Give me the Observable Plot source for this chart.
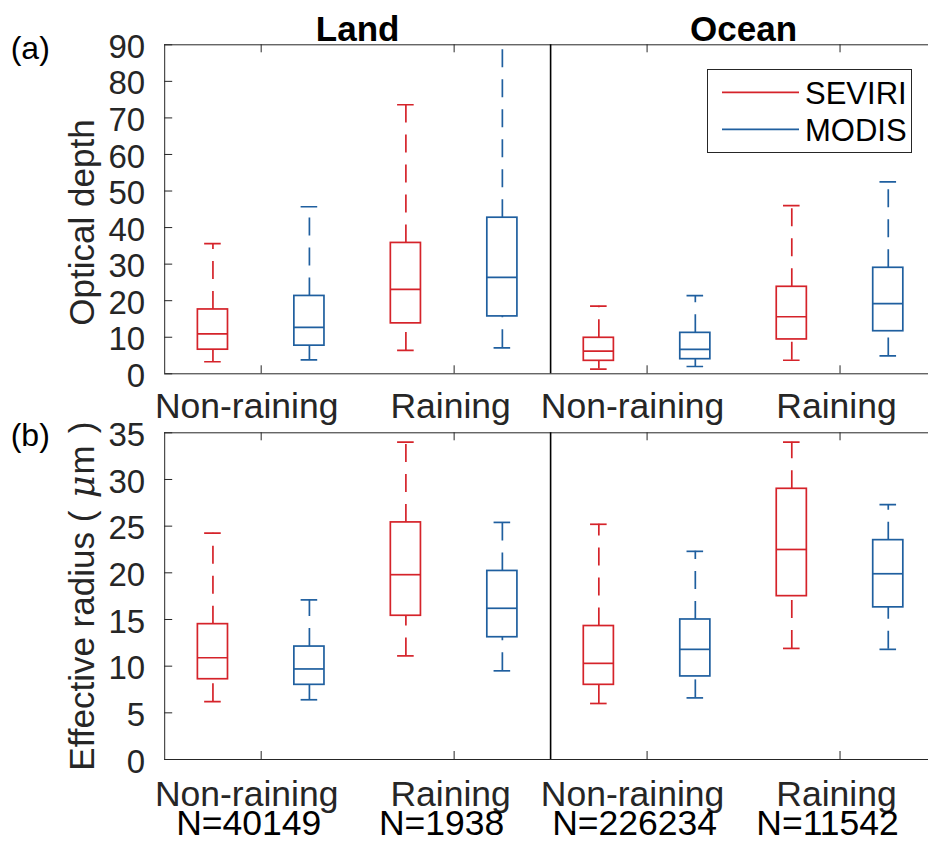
<!DOCTYPE html>
<html>
<head>
<meta charset="utf-8">
<script src="https://cdn.jsdelivr.net/npm/d3@7"></script>
<script src="https://cdn.jsdelivr.net/npm/@observablehq/plot@0.6"></script>
<style>
  body { margin: 0; background: #fff; }
  #chart { position: relative; width: 928px; height: 841px; overflow: hidden; background: #fff; }
  #chart svg { position: absolute; left: 0; }
</style>
</head>
<body>
<div id="chart"></div>
<script>
// ---------------- data ----------------
const categories = ["Non-raining", "Raining", "Non-raining", "Raining"];
const counts = ["N=40149", "N=1938", "N=226234", "N=11542"];
const surfaces = ["Land", "Ocean"];
const sensors = ["SEVIRI", "MODIS"];
// each entry: [lower whisker, q1, median, q3, upper whisker]
const tauSEVIRI = [[3.3, 6.6, 10.9, 17.6, 35.6], [6.4, 13.8, 23.1, 35.8, 73.6], [1.3, 3.55, 6.2, 9.85, 18.5], [3.7, 9.4, 15.6, 23.8, 46.0]];
const tauMODIS  = [[3.8, 7.7, 12.7, 21.3, 45.7], [7.1, 15.7, 26.4, 42.7, 95.0], [2.0, 4.0, 6.7, 11.2, 21.4], [4.9, 11.65, 19.2, 29.0, 52.5]];
const reSEVIRI  = [[6.2, 8.6, 10.9, 14.5, 24.25], [11.1, 15.4, 19.8, 25.4, 34.0], [6.0, 8.0, 10.3, 14.3, 25.2], [11.9, 17.5, 22.5, 29.0, 34.0]];
const reMODIS   = [[6.4, 8.0, 9.7, 12.1, 17.1], [9.5, 13.1, 16.2, 20.2, 25.4], [6.6, 8.9, 11.8, 15.0, 22.3], [11.8, 16.3, 19.9, 23.5, 27.3]];
const tauTicks = [0, 10, 20, 30, 40, 50, 60, 70, 80, 90];
const reTicks = [0, 5, 10, 15, 20, 25, 30, 35];
const xTicks = [1, 2, 3, 4];

// ---------------- style ----------------
const colors = {SEVIRI: "#d5232a", MODIS: "#1f5f9f"};
const FONT = "Liberation Sans, Arial, Helvetica, sans-serif";
const AX = "#262626";
const W = 928, ML = 164.2;
const XMAX = 4.4585;          // axis continues slightly beyond the picture
const frameW = W - ML;
const offs = {SEVIRI: -0.25, MODIS: 0.25};
const halfBox = 0.078, halfCap = 0.043;

function rowsFor(seviri, modis) {
  const rows = [];
  categories.forEach((c, i) => {
    sensors.forEach(s => {
      const v = (s === "SEVIRI" ? seviri : modis)[i];
      rows.push({sensor: s, x: i + 1 + offs[s], lo: v[0], q1: v[1], med: v[2], q3: v[3], hi: v[4]});
    });
  });
  return rows;
}

function boxMarks(rows) {
  const m = [];
  for (const s of sensors) {
    const d = rows.filter(r => r.sensor === s);
    const st = {stroke: colors[s], strokeWidth: 1.7, clip: true};
    m.push(
      Plot.ruleX(d, {x: "x", y1: "q3", y2: "hi", strokeDasharray: "18,12", ...st}),
      Plot.ruleX(d, {x: "x", y1: "lo", y2: "q1", strokeDasharray: "18,12", ...st}),
      Plot.ruleY(d, {y: "hi", x1: r => r.x - halfCap, x2: r => r.x + halfCap, ...st}),
      Plot.ruleY(d, {y: "lo", x1: r => r.x - halfCap, x2: r => r.x + halfCap, ...st}),
      Plot.rect(d, {x1: r => r.x - halfBox, x2: r => r.x + halfBox, y1: "q1", y2: "q3", fill: "none", ...st}),
      Plot.ruleY(d, {y: "med", x1: r => r.x - halfBox, x2: r => r.x + halfBox, ...st})
    );
  }
  return m;
}

function panel({rows, yMax, yTicks, height, marginTop, marginBottom, label, labelDy, ylabel, ylabelDy, ylabelSize, titles, lines}) {
  const frameH = height - marginTop - marginBottom;
  const marks = [
    // frame
    Plot.ruleY([yMax], {stroke: AX, strokeWidth: 1}),
    Plot.ruleY([0], {stroke: AX, strokeWidth: 1}),
    Plot.ruleX([0.5], {stroke: AX, strokeWidth: 1}),
    // inward ticks
    Plot.ruleX(xTicks, {x: d => d, insetBottom: frameH - 8, stroke: AX}),
    Plot.ruleX(xTicks, {x: d => d, insetTop: frameH - 8, stroke: AX}),
    Plot.ruleY(yTicks, {y: d => d, insetRight: frameW - 8, stroke: AX}),
    // land / ocean divider
    Plot.ruleX([2.5], {stroke: "#000", strokeWidth: 1.6}),
    ...boxMarks(rows),
    // y tick labels
    Plot.text(yTicks, {y: d => d, text: d => String(d), frameAnchor: "left", dx: -19.5, dy: 2.5,
      textAnchor: "end", fontSize: 33, fill: AX}),
    // panel letter
    Plot.text([label], {text: d => d, frameAnchor: "top-left", dx: 10.2 - ML, dy: labelDy,
      textAnchor: "start", lineAnchor: "bottom", fontSize: 32, fill: "#000"}),
    // y label
    Plot.text([ylabel], {text: d => d, frameAnchor: "left", rotate: -90, dx: 93.5 - ML, dy: ylabelDy,
      textAnchor: "middle", lineAnchor: "bottom", fontSize: ylabelSize, fill: AX})
  ];
  // category labels (line 1)
  const idx = [0, 1, 2, 3];
  for (const [sel, dx] of [[i => i % 2 === 0, -14.5], [i => i % 2 === 1, -3.5]]) {
    marks.push(Plot.text(idx.filter(sel), {x: i => i + 1, text: i => categories[i], frameAnchor: "bottom",
      dx, dy: lines[0], textAnchor: "middle", lineAnchor: "bottom", fontSize: 35.5, fill: AX}));
  }
  if (lines.length > 1) {
    marks.push(Plot.text(idx, {x: i => i + 1, text: i => counts[i], frameAnchor: "bottom",
      dx: -12.5, dy: lines[1], textAnchor: "middle", lineAnchor: "bottom", fontSize: 35.5, fill: "#000"}));
  }
  if (titles) {
    marks.push(Plot.text(surfaces, {x: (d, i) => 1.5 + 2 * i, text: d => d, frameAnchor: "top", dy: -4.3,
      textAnchor: "middle", lineAnchor: "bottom", fontSize: 35, fontWeight: "bold", fill: "#000"}));
  }
  return Plot.plot({
    width: W, height, marginLeft: ML, marginRight: 0, marginTop, marginBottom,
    x: {domain: [0.5, XMAX], axis: null},
    y: {domain: [0, yMax], axis: null},
    style: {fontFamily: FONT, background: "transparent", overflow: "visible"},
    marks
  });
}

const chart = document.getElementById("chart");

const svgA = panel({
  rows: rowsFor(tauSEVIRI, tauMODIS), yMax: 90, yTicks: tauTicks,
  height: 440, marginTop: 44.3, marginBottom: 440 - 373.3,
  label: "(a)", labelDy: 14, ylabel: "Optical depth", ylabelDy: 13.2, ylabelSize: 35, titles: true,
  lines: [44.2]
});
svgA.style.top = "0px";
chart.appendChild(svgA);

const RE_LABEL = "Effective radius ( \u03bcm)";
const svgB = panel({
  rows: rowsFor(reSEVIRI, reMODIS), yMax: 35, yTicks: reTicks,
  height: 441, marginTop: 32.3, marginBottom: 441 - 359,
  label: "(b)", labelDy: 12.7, ylabel: RE_LABEL, ylabelDy: 0, ylabelSize: 35, titles: false,
  lines: [46.5, 75.5]
});
svgB.style.top = "400px";
chart.appendChild(svgB);

// TeX-like rendering of the unit: italic mu with wide spacing
d3.select(svgB).selectAll("text").filter(function () { return this.textContent === RE_LABEL; })
  .each(function () {
    const t = d3.select(this);
    t.text(null);
    t.append("tspan").text("Effective radius (");
    t.append("tspan").attr("dx", 12.5).attr("font-style", "italic").attr("font-family", "DejaVu Serif, serif").text("\u03bc");
    t.append("tspan").attr("dx", 1).text("m");
    t.append("tspan").attr("dx", 12).text(")");
  });

// legend inside panel (a)
const lg = d3.select(svgA).append("g").attr("font-family", FONT).attr("text-anchor", "start");
lg.append("rect").attr("x", 707.5).attr("y", 69.5).attr("width", 204).attr("height", 83)
  .attr("fill", "#fff").attr("stroke", AX).attr("stroke-width", 1);
sensors.forEach((s, i) => {
  const y = 92.3 + i * 37;
  lg.append("line").attr("x1", 722).attr("x2", 799).attr("y1", y).attr("y2", y)
    .attr("stroke", colors[s]).attr("stroke-width", 1.7);
  lg.append("text").attr("x", 805).attr("y", y + 11.5).attr("font-size", 31).attr("fill", "#000")
    .attr("text-anchor", "start").text(s);
});
</script>
</body>
</html>
